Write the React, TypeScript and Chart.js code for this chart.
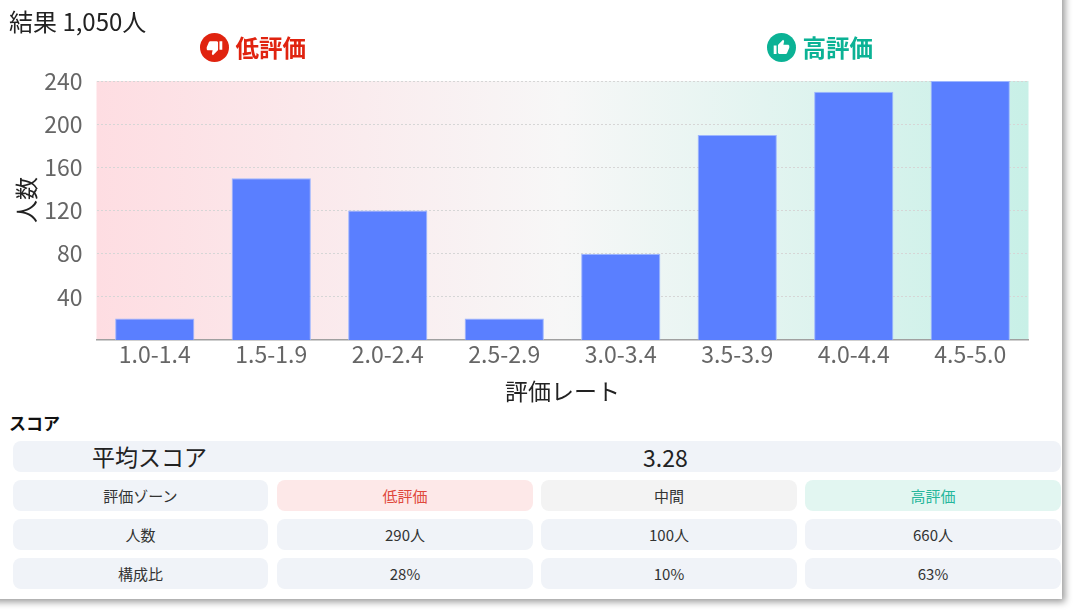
import React, { useEffect, useRef } from "react";
import { Chart, registerables } from "chart.js";

Chart.register(...registerables);

const FONT = '"Noto Sans CJK JP", "Noto Sans", sans-serif';

const categories = ["1.0-1.4", "1.5-1.9", "2.0-2.4", "2.5-2.9", "3.0-3.4", "3.5-3.9", "4.0-4.4", "4.5-5.0"];
const counts = [20, 150, 120, 20, 80, 190, 230, 240];
const yTicks = [40, 80, 120, 160, 200, 240];

const totalLabel = "結果 1,050人";
const lowLabel = "低評価";
const highLabel = "高評価";
const scoreHeading = "スコア";
const averageLabel = "平均スコア";
const averageValue = "3.28";
const yTitle = "人数";
const xTitle = "評価レート";
const zoneRow = ["評価ゾーン", "低評価", "中間", "高評価"];
const peopleRow = ["人数", "290人", "100人", "660人"];
const shareRow = ["構成比", "28%", "10%", "63%"];

const colX = [13, 277, 541, 805];
const colW = [255, 256, 256, 256];
const rowY = [480, 519, 558];

const zoneBackgroundPlugin = {
  id: "zoneBackground",
  beforeDraw(chart: any) {
    const { ctx, chartArea: a } = chart;
    const g = ctx.createLinearGradient(a.left, 0, a.right, 0);
    g.addColorStop(0, "#fedde2");
    g.addColorStop(0.5, "#f7f7f7");
    g.addColorStop(1, "#c8f0e7");
    ctx.save();
    ctx.fillStyle = g;
    ctx.fillRect(a.left, a.top, a.right - a.left, a.bottom - a.top);
    ctx.restore();
  },
};

function abs(left: number, top: number, width: number, height: number): React.CSSProperties {
  return { position: "absolute", left, top, width, height };
}

function Cell({ x, y, w, bg, color, children }: any) {
  return (
    <div
      style={{
        ...abs(x, y, w, 31),
        background: bg,
        borderRadius: 8,
        color,
        fontSize: 15,
        lineHeight: "32px",
        textAlign: "center",
      }}
    >
      {children}
    </div>
  );
}

function Badge({ x, label, color, path }: any) {
  return (
    <>
      <div style={{ ...abs(x, 33, 29, 29), borderRadius: "50%", background: color, display: "flex", alignItems: "center", justifyContent: "center" }}>
        <svg width="17" height="17" viewBox="0 0 24 24">
          <path d={path} fill="#fff" />
        </svg>
      </div>
      <div style={{ position: "absolute", left: x + 35.5, top: 30, fontSize: 23.5, lineHeight: "34px", fontWeight: 700, color, whiteSpace: "nowrap" }}>{label}</div>
    </>
  );
}

const THUMB_DOWN = "M15 3H6c-.83 0-1.54.5-1.84 1.22l-3.02 7.05c-.09.23-.14.47-.14.73v2c0 1.1.9 2 2 2h6.31l-.95 4.57-.03.32c0 .41.17.79.44 1.06L9.83 23l6.59-6.59c.36-.36.58-.86.58-1.41V5c0-1.1-.9-2-2-2zm4 0v12h4V3h-4z";
const THUMB_UP = "M1 21h4V9H1v12zm22-11c0-1.1-.9-2-2-2h-6.31l.95-4.57.03-.32c0-.41-.17-.79-.44-1.06L14.17 1 7.59 7.59C7.22 7.95 7 8.45 7 9v10c0 1.1.9 2 2 2h9c.83 0 1.54-.5 1.84-1.22l3.02-7.05c.09-.23.14-.47.14-.73v-2z";

export default function App() {
  const ref = useRef<HTMLCanvasElement>(null);

  useEffect(() => {
    const chart = new Chart(ref.current!, {
      type: "bar",
      data: {
        labels: categories,
        datasets: [
          {
            data: counts,
            backgroundColor: "#5a7fff",
            borderColor: "#9db6ff",
            borderWidth: 1,
            categoryPercentage: 0.68,
            barPercentage: 1,
          },
        ],
      },
      options: {
        animation: false,
        responsive: false,
        devicePixelRatio: 1,
        layout: { padding: { left: 0, right: 47.5, top: 81, bottom: 0 } },
        plugins: { legend: { display: false }, tooltip: { enabled: false } },
        scales: {
          x: {
            afterFit: (s: any) => { s.height = 65; },
            grid: { display: false, drawTicks: false },
            border: { color: "#a0a0a0", width: 1.5 },
            ticks: { color: "#666666", font: { family: FONT, size: 23 }, padding: 0, maxRotation: 0 },
            title: { display: true, text: xTitle, color: "#222222", font: { family: FONT, size: 23 }, padding: { top: 0, bottom: 0 } },
          },
          y: {
            min: 0,
            max: 240,
            afterFit: (s: any) => { s.width = 96.5; },
            afterBuildTicks: (s: any) => { s.ticks = yTicks.map((value) => ({ value })); },
            grid: { color: "#d6d6d6", lineWidth: 1, drawTicks: false },
            border: { display: false, dash: [2, 2] },
            ticks: { color: "#666666", font: { family: FONT, size: 23 }, padding: 14 },
            title: { display: false },
          },
        },
      },
      plugins: [zoneBackgroundPlugin],
    });
    return () => chart.destroy();
  }, []);

  return (
    <div style={{ position: "absolute", left: 0, top: 0, width: 1076, height: 612, background: "#fff", fontFamily: FONT, color: "#222", overflow: "hidden" }}>
      <div style={{ ...abs(-10, -10, 1072, 609), background: "#fff", boxShadow: "3px 3px 7px rgba(0,0,0,0.4)" }} />
      <canvas ref={ref} width={1076} height={405} style={{ position: "absolute", left: 0, top: 0, display: "block" }} />
      <div style={{ position: "absolute", left: 25, top: 200, transform: "translate(-50%,-50%) rotate(-90deg)", fontSize: 23, lineHeight: "30px", whiteSpace: "nowrap", color: "#222" }}>{yTitle}</div>
      <div style={{ position: "absolute", left: 9, top: 4, fontSize: 24, lineHeight: "34px", whiteSpace: "nowrap" }}>{totalLabel}</div>
      <Badge x={200} label={lowLabel} color="#e0230f" path={THUMB_DOWN} />
      <Badge x={767} label={highLabel} color="#0bb295" path={THUMB_UP} />
      <div style={{ position: "absolute", left: 9, top: 411, fontSize: 17, lineHeight: "24px", fontWeight: 700, color: "#111" }}>{scoreHeading}</div>
      <div style={{ ...abs(13, 441, 1048, 31), background: "#f0f3f8", borderRadius: 8 }} />
      <div style={{ position: "absolute", left: 92, top: 440, fontSize: 23, lineHeight: "33px" }}>{averageLabel}</div>
      <div style={{ position: "absolute", left: 643, top: 441, fontSize: 23, lineHeight: "33px" }}>{averageValue}</div>
      {zoneRow.map((t, i) => (
        <Cell key={t} x={colX[i]} y={rowY[0]} w={colW[i]} bg={["#f0f3f8", "#fde8e8", "#f3f3f3", "#e2f6f1"][i]} color={["#333", "#e0483c", "#333", "#26b69c"][i]}>{t}</Cell>
      ))}
      {peopleRow.map((t, i) => (
        <Cell key={t} x={colX[i]} y={rowY[1]} w={colW[i]} bg="#f0f3f8" color="#333">{t}</Cell>
      ))}
      {shareRow.map((t, i) => (
        <Cell key={t} x={colX[i]} y={rowY[2]} w={colW[i]} bg="#f0f3f8" color="#333">{t}</Cell>
      ))}
    </div>
  );
}
